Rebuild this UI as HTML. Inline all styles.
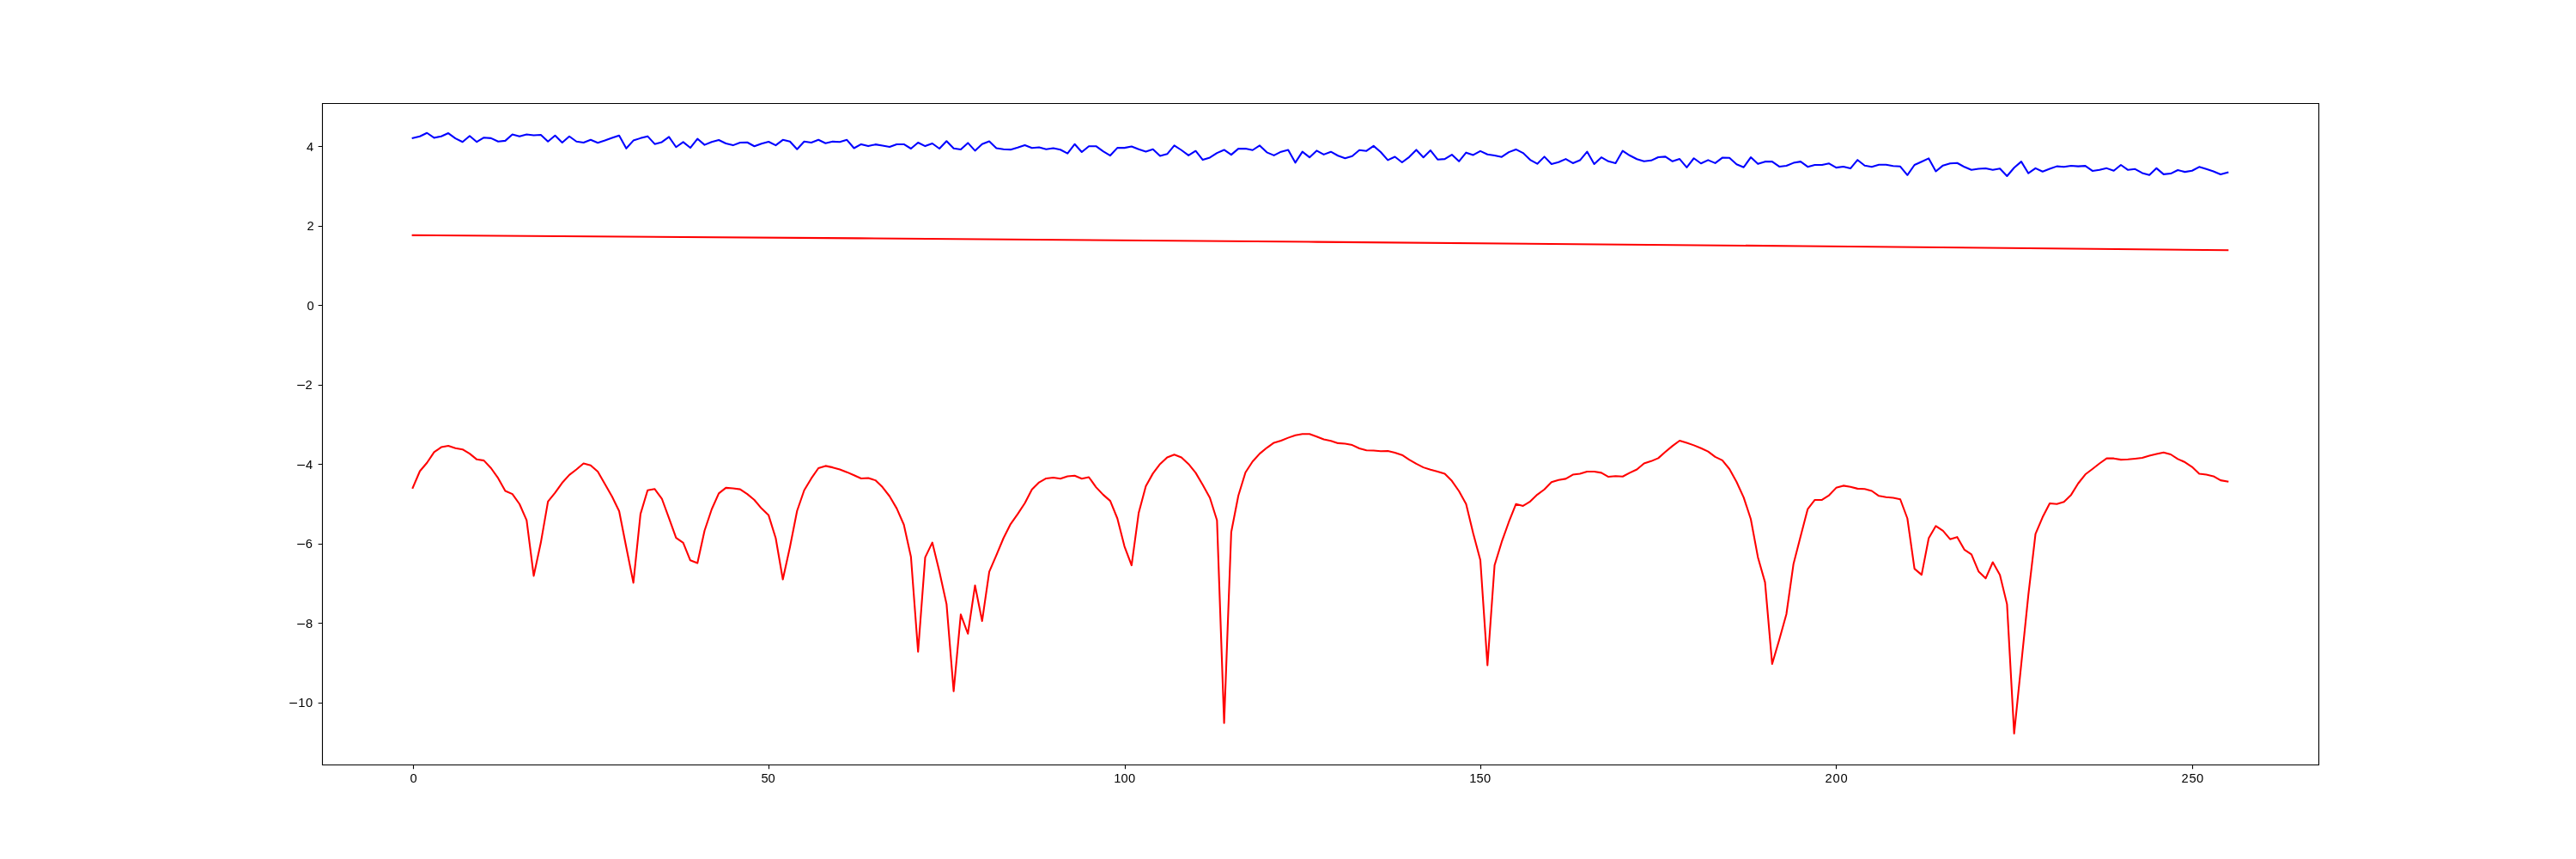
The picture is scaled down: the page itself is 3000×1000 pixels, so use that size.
<!DOCTYPE html>
<html><head><meta charset="utf-8"><style>
html,body{margin:0;padding:0;background:#fff;}
body{width:3000px;height:1000px;overflow:hidden;font-family:"Liberation Sans",sans-serif;}
svg{display:block;}
.t{will-change:transform;}
</style></head><body>
<svg width="3000" height="1000" viewBox="0 0 3000 1000">
<rect x="0" y="0" width="3000" height="1000" fill="#fff"/>
<polyline points="480.68,273.85 1000,277.35 1533.4,281.6 2100,286.5 2594.3,291.3" fill="none" stroke="#ff0000" stroke-width="2.08" stroke-linecap="square" stroke-linejoin="round"/>
<polyline points="480.68,160.67 488.97,158.73 497.26,154.75 505.55,160.38 513.84,158.73 522.12,155.04 530.41,161.16 538.70,165.23 546.99,158.25 555.28,165.23 563.57,160.19 571.86,160.87 580.15,164.75 588.43,163.87 596.72,156.50 605.01,158.73 613.30,156.50 621.59,157.47 629.88,156.98 638.17,164.75 646.46,157.76 654.74,166.01 663.03,158.73 671.32,164.75 679.61,166.01 687.90,162.81 696.19,166.20 704.48,163.58 712.77,160.57 721.06,157.76 729.34,172.80 737.63,163.58 745.92,160.87 754.21,158.63 762.50,167.66 770.79,165.43 779.08,159.41 787.37,171.25 795.65,165.43 803.94,172.03 812.23,161.55 820.52,168.63 828.81,165.23 837.10,163.00 845.39,166.98 853.68,169.11 861.96,166.01 870.25,165.72 878.54,170.28 886.83,167.17 895.12,165.04 903.41,169.11 911.70,162.81 919.99,164.75 928.28,173.77 936.56,164.75 944.85,166.01 953.14,162.81 961.43,166.69 969.72,164.84 978.01,165.23 986.30,162.81 994.59,172.51 1002.87,167.95 1011.16,170.09 1019.45,168.14 1027.74,169.60 1036.03,171.06 1044.32,167.95 1052.61,167.95 1060.90,173.00 1069.18,166.01 1077.47,170.09 1085.76,166.98 1094.05,173.00 1102.34,164.26 1110.63,172.80 1118.92,173.97 1127.21,166.40 1135.50,175.42 1143.78,167.66 1152.07,164.46 1160.36,172.51 1168.65,173.77 1176.94,174.16 1185.23,171.83 1193.52,168.92 1201.81,172.22 1210.09,171.54 1218.38,173.78 1226.67,172.52 1234.96,174.26 1243.25,178.63 1251.54,167.76 1259.83,176.98 1268.12,170.19 1276.40,170.19 1284.69,176.20 1292.98,181.06 1301.27,172.13 1309.56,172.13 1317.85,170.57 1326.14,173.78 1334.43,176.40 1342.72,173.78 1351.00,181.54 1359.29,179.31 1367.58,169.41 1375.87,174.75 1384.16,180.86 1392.45,175.72 1400.74,186.10 1409.03,183.48 1417.31,178.14 1425.60,174.46 1433.89,180.09 1442.18,173.10 1450.47,173.10 1458.76,174.75 1467.05,169.41 1475.34,177.37 1483.62,180.86 1491.91,176.69 1500.20,174.46 1508.49,189.31 1516.78,176.69 1525.07,183.19 1533.36,175.43 1541.65,179.89 1549.94,176.69 1558.22,181.25 1566.51,184.16 1574.80,181.83 1583.09,174.75 1591.38,175.72 1599.67,169.90 1607.96,176.98 1616.25,186.39 1624.53,182.51 1632.82,189.01 1641.11,182.80 1649.40,174.46 1657.69,183.19 1665.98,175.04 1674.27,185.71 1682.56,185.13 1690.84,180.09 1699.13,187.85 1707.42,177.66 1715.71,180.43 1724.00,175.87 1732.29,179.75 1740.58,181.01 1748.87,182.66 1757.16,177.13 1765.44,173.92 1773.73,178.10 1782.02,186.06 1790.31,190.71 1798.60,182.37 1806.89,190.91 1815.18,188.77 1823.47,185.09 1831.75,189.94 1840.04,186.54 1848.33,176.55 1856.62,190.91 1864.91,183.14 1873.20,187.80 1881.49,189.94 1889.78,175.57 1898.06,181.01 1906.35,185.28 1914.64,187.80 1922.93,186.83 1931.22,182.95 1939.51,182.37 1947.80,187.80 1956.09,185.09 1964.38,194.94 1972.66,184.26 1980.95,190.28 1989.24,186.40 1997.53,189.89 2005.82,183.58 2014.11,183.78 2022.40,191.25 2030.69,194.74 2038.97,183.10 2047.26,190.86 2055.55,188.14 2063.84,188.14 2072.13,193.97 2080.42,193.00 2088.71,189.60 2097.00,188.14 2105.28,194.16 2113.57,192.03 2121.86,192.03 2130.15,190.28 2138.44,195.13 2146.73,193.97 2155.02,196.10 2163.31,186.20 2171.60,192.80 2179.88,194.16 2188.17,191.83 2196.46,191.83 2204.75,193.19 2213.04,193.82 2221.33,203.82 2229.62,191.98 2237.91,188.29 2246.19,184.41 2254.48,199.45 2262.77,192.66 2271.06,190.23 2279.35,189.75 2287.64,194.31 2295.93,197.80 2304.22,196.54 2312.50,196.06 2320.79,197.80 2329.08,196.25 2337.37,204.98 2345.66,195.28 2353.95,188.10 2362.24,201.68 2370.53,195.86 2378.82,199.74 2387.10,196.54 2395.39,193.63 2403.68,194.31 2411.97,192.95 2420.26,193.63 2428.55,193.14 2436.84,198.97 2445.13,197.80 2453.41,195.86 2461.70,198.77 2469.99,191.98 2478.28,197.80 2486.57,196.83 2494.86,201.39 2503.15,203.82 2511.44,195.86 2519.72,202.85 2528.01,202.07 2536.30,198.00 2544.59,200.13 2552.88,198.77 2561.17,194.31 2569.46,196.83 2577.75,199.45 2586.04,203.04 2594.32,200.71" fill="none" stroke="#0000ff" stroke-width="2.08" stroke-linecap="square" stroke-linejoin="round"/>
<polyline points="480.68,567.85 488.97,548.50 497.26,538.75 505.55,526.38 513.84,520.56 522.12,519.10 530.41,521.72 538.70,523.18 546.99,528.13 555.28,534.82 563.57,536.13 571.86,545.01 580.15,556.65 588.43,571.49 596.72,575.13 605.01,586.77 613.30,605.69 621.59,670.40 629.88,631.57 638.17,583.86 646.46,573.67 654.74,562.03 663.03,552.86 671.32,546.46 679.61,539.48 687.90,541.66 696.19,548.93 704.48,563.49 712.77,578.04 721.06,595.06 729.34,636.95 737.63,678.40 745.92,598.39 754.21,570.76 762.50,569.31 770.79,580.51 779.08,603.21 787.37,626.18 795.65,631.86 803.94,652.34 812.23,655.54 820.52,617.74 828.81,593.00 837.10,574.40 845.39,567.85 853.68,568.58 861.96,569.60 870.25,575.13 878.54,581.97 886.83,591.86 895.12,599.87 903.41,626.47 911.70,674.49 919.99,636.66 928.28,594.77 936.56,570.76 944.85,556.94 953.14,545.01 961.43,542.39 969.72,544.13 978.01,546.46 986.30,549.66 994.59,553.30 1002.87,556.94 1011.16,556.50 1019.45,559.12 1027.74,567.12 1036.03,577.75 1044.32,591.86 1052.61,610.78 1060.90,648.27 1069.18,758.78 1077.47,648.91 1085.76,631.62 1094.05,665.55 1102.34,703.20 1110.63,804.73 1118.92,715.37 1127.21,737.74 1135.50,681.56 1143.78,722.93 1152.07,665.55 1160.36,646.35 1168.65,626.50 1176.94,610.05 1185.23,598.41 1193.52,585.75 1201.81,569.74 1210.09,561.59 1218.38,556.94 1226.67,555.92 1234.96,557.23 1243.25,554.46 1251.54,553.74 1259.83,557.23 1268.12,555.48 1276.40,567.12 1284.69,575.86 1292.98,583.13 1301.27,603.50 1309.56,636.10 1317.85,658.13 1326.14,596.96 1334.43,565.96 1342.72,551.12 1351.00,540.20 1359.29,532.49 1367.58,529.29 1375.87,532.49 1384.16,540.20 1392.45,550.39 1400.74,564.51 1409.03,579.49 1417.31,605.69 1425.60,841.70 1433.89,619.50 1442.18,577.02 1450.47,549.95 1458.76,537.29 1467.05,528.13 1475.34,521.29 1483.62,515.47 1491.91,512.99 1500.20,509.64 1508.49,506.73 1516.78,505.28 1525.07,505.28 1533.36,508.19 1541.65,511.54 1549.94,513.28 1558.22,515.90 1566.51,516.48 1574.80,518.08 1583.09,522.01 1591.38,524.20 1599.67,524.49 1607.96,525.22 1616.25,524.92 1624.53,527.11 1632.82,529.73 1641.11,535.11 1649.40,539.91 1657.69,544.13 1665.98,546.75 1674.27,548.93 1682.56,551.41 1690.84,559.85 1699.13,571.78 1707.42,586.77 1715.71,621.01 1724.00,651.98 1732.29,774.53 1740.58,657.95 1748.87,630.97 1757.16,607.74 1765.44,586.77 1773.73,588.95 1782.02,583.86 1790.31,575.86 1798.60,569.74 1806.89,561.30 1815.18,558.83 1823.47,557.37 1831.75,552.57 1840.04,551.55 1848.33,548.93 1856.62,548.93 1864.91,550.39 1873.20,555.05 1881.49,554.32 1889.78,554.76 1898.06,550.39 1906.35,546.46 1914.64,539.48 1922.93,536.86 1931.22,533.36 1939.51,526.09 1947.80,519.10 1956.09,512.99 1964.38,515.47 1972.66,518.38 1980.95,521.72 1989.24,525.65 1997.53,531.91 2005.82,535.84 2014.11,546.02 2022.40,561.01 2030.69,579.06 2038.97,604.23 2047.26,648.66 2055.55,677.86 2063.84,772.92 2072.13,744.77 2080.42,715.02 2088.71,656.40 2097.00,624.33 2105.28,592.59 2113.57,581.97 2121.86,581.97 2130.15,576.58 2138.44,567.85 2146.73,565.38 2155.02,566.83 2163.31,568.87 2171.60,569.31 2179.88,571.49 2188.17,577.31 2196.46,578.77 2204.75,579.49 2213.04,581.24 2221.33,603.50 2229.62,662.12 2237.91,669.10 2246.19,626.54 2254.48,612.29 2262.77,617.88 2271.06,627.66 2279.35,625.15 2287.64,639.82 2295.93,645.40 2304.22,665.19 2312.50,673.30 2320.79,654.48 2329.08,669.15 2337.37,703.38 2345.66,853.90 2353.95,773.10 2362.24,692.30 2370.53,621.65 2378.82,602.05 2387.10,586.04 2395.39,586.77 2403.68,584.30 2411.97,576.15 2420.26,562.76 2428.55,552.28 2436.84,546.02 2445.13,539.48 2453.41,533.66 2461.70,533.66 2469.99,535.11 2478.28,534.82 2486.57,533.95 2494.86,532.93 2503.15,530.45 2511.44,528.56 2519.72,526.67 2528.01,529.00 2536.30,534.38 2544.59,538.02 2552.88,543.55 2561.17,551.41 2569.46,552.57 2577.75,554.46 2586.04,559.12 2594.32,560.58" fill="none" stroke="#ff0000" stroke-width="2.08" stroke-linecap="square" stroke-linejoin="round"/>
<path d="M375.5,890.5 L375.5,120.5 L2700.5,120.5 L2700.5,890.5 Z" fill="none" stroke="#000" stroke-width="1.11" stroke-linejoin="miter"/>
<path d="M370.64,170.5 H375.5 M370.64,263.5 H375.5 M370.64,355.5 H375.5 M370.64,448.5 H375.5 M370.64,540.5 H375.5 M370.64,633.5 H375.5 M370.64,725.5 H375.5 M370.64,818.5 H375.5 M481.5,890.5 V895.36 M895.5,890.5 V895.36 M1310.5,890.5 V895.36 M1724.5,890.5 V895.36 M2138.5,890.5 V895.36 M2553.5,890.5 V895.36" stroke="#000" stroke-width="1.11" fill="none"/>
<g fill="#000"><rect x="346.25" y="447.95" width="8.69" height="1.15"/><rect x="346.25" y="540.95" width="8.69" height="1.15"/><rect x="346.25" y="632.95" width="8.69" height="1.15"/><rect x="346.25" y="725.95" width="8.69" height="1.15"/><rect x="337.25" y="817.95" width="8.69" height="1.15"/></g>
<g class="t" style="font-family:&quot;Liberation Sans&quot;,sans-serif" font-size="14.72" fill="#000"><text x="356.95" y="176">4</text><text x="357.41" y="268">2</text><text x="357.41" y="361">0</text><text x="355.41" y="453">2</text><text x="355.95" y="546">4</text><text x="355.86" y="638">6</text><text x="355.91" y="731">8</text><text x="347.21" y="823">1</text><text x="355.91" y="823">0</text><text x="477.41" y="911">0</text><text x="886.42" y="911">5</text><text x="894.41" y="911">0</text><text x="1297.21" y="911">1</text><text x="1305.41" y="911">0</text><text x="1313.91" y="911">0</text><text x="1711.21" y="911">1</text><text x="1719.42" y="911">5</text><text x="1727.91" y="911">0</text><text x="2125.41" y="911">2</text><text x="2134.41" y="911">0</text><text x="2143.41" y="911">0</text><text x="2540.41" y="911">2</text><text x="2549.42" y="911">5</text><text x="2557.91" y="911">0</text></g>
</svg>
</body></html>
